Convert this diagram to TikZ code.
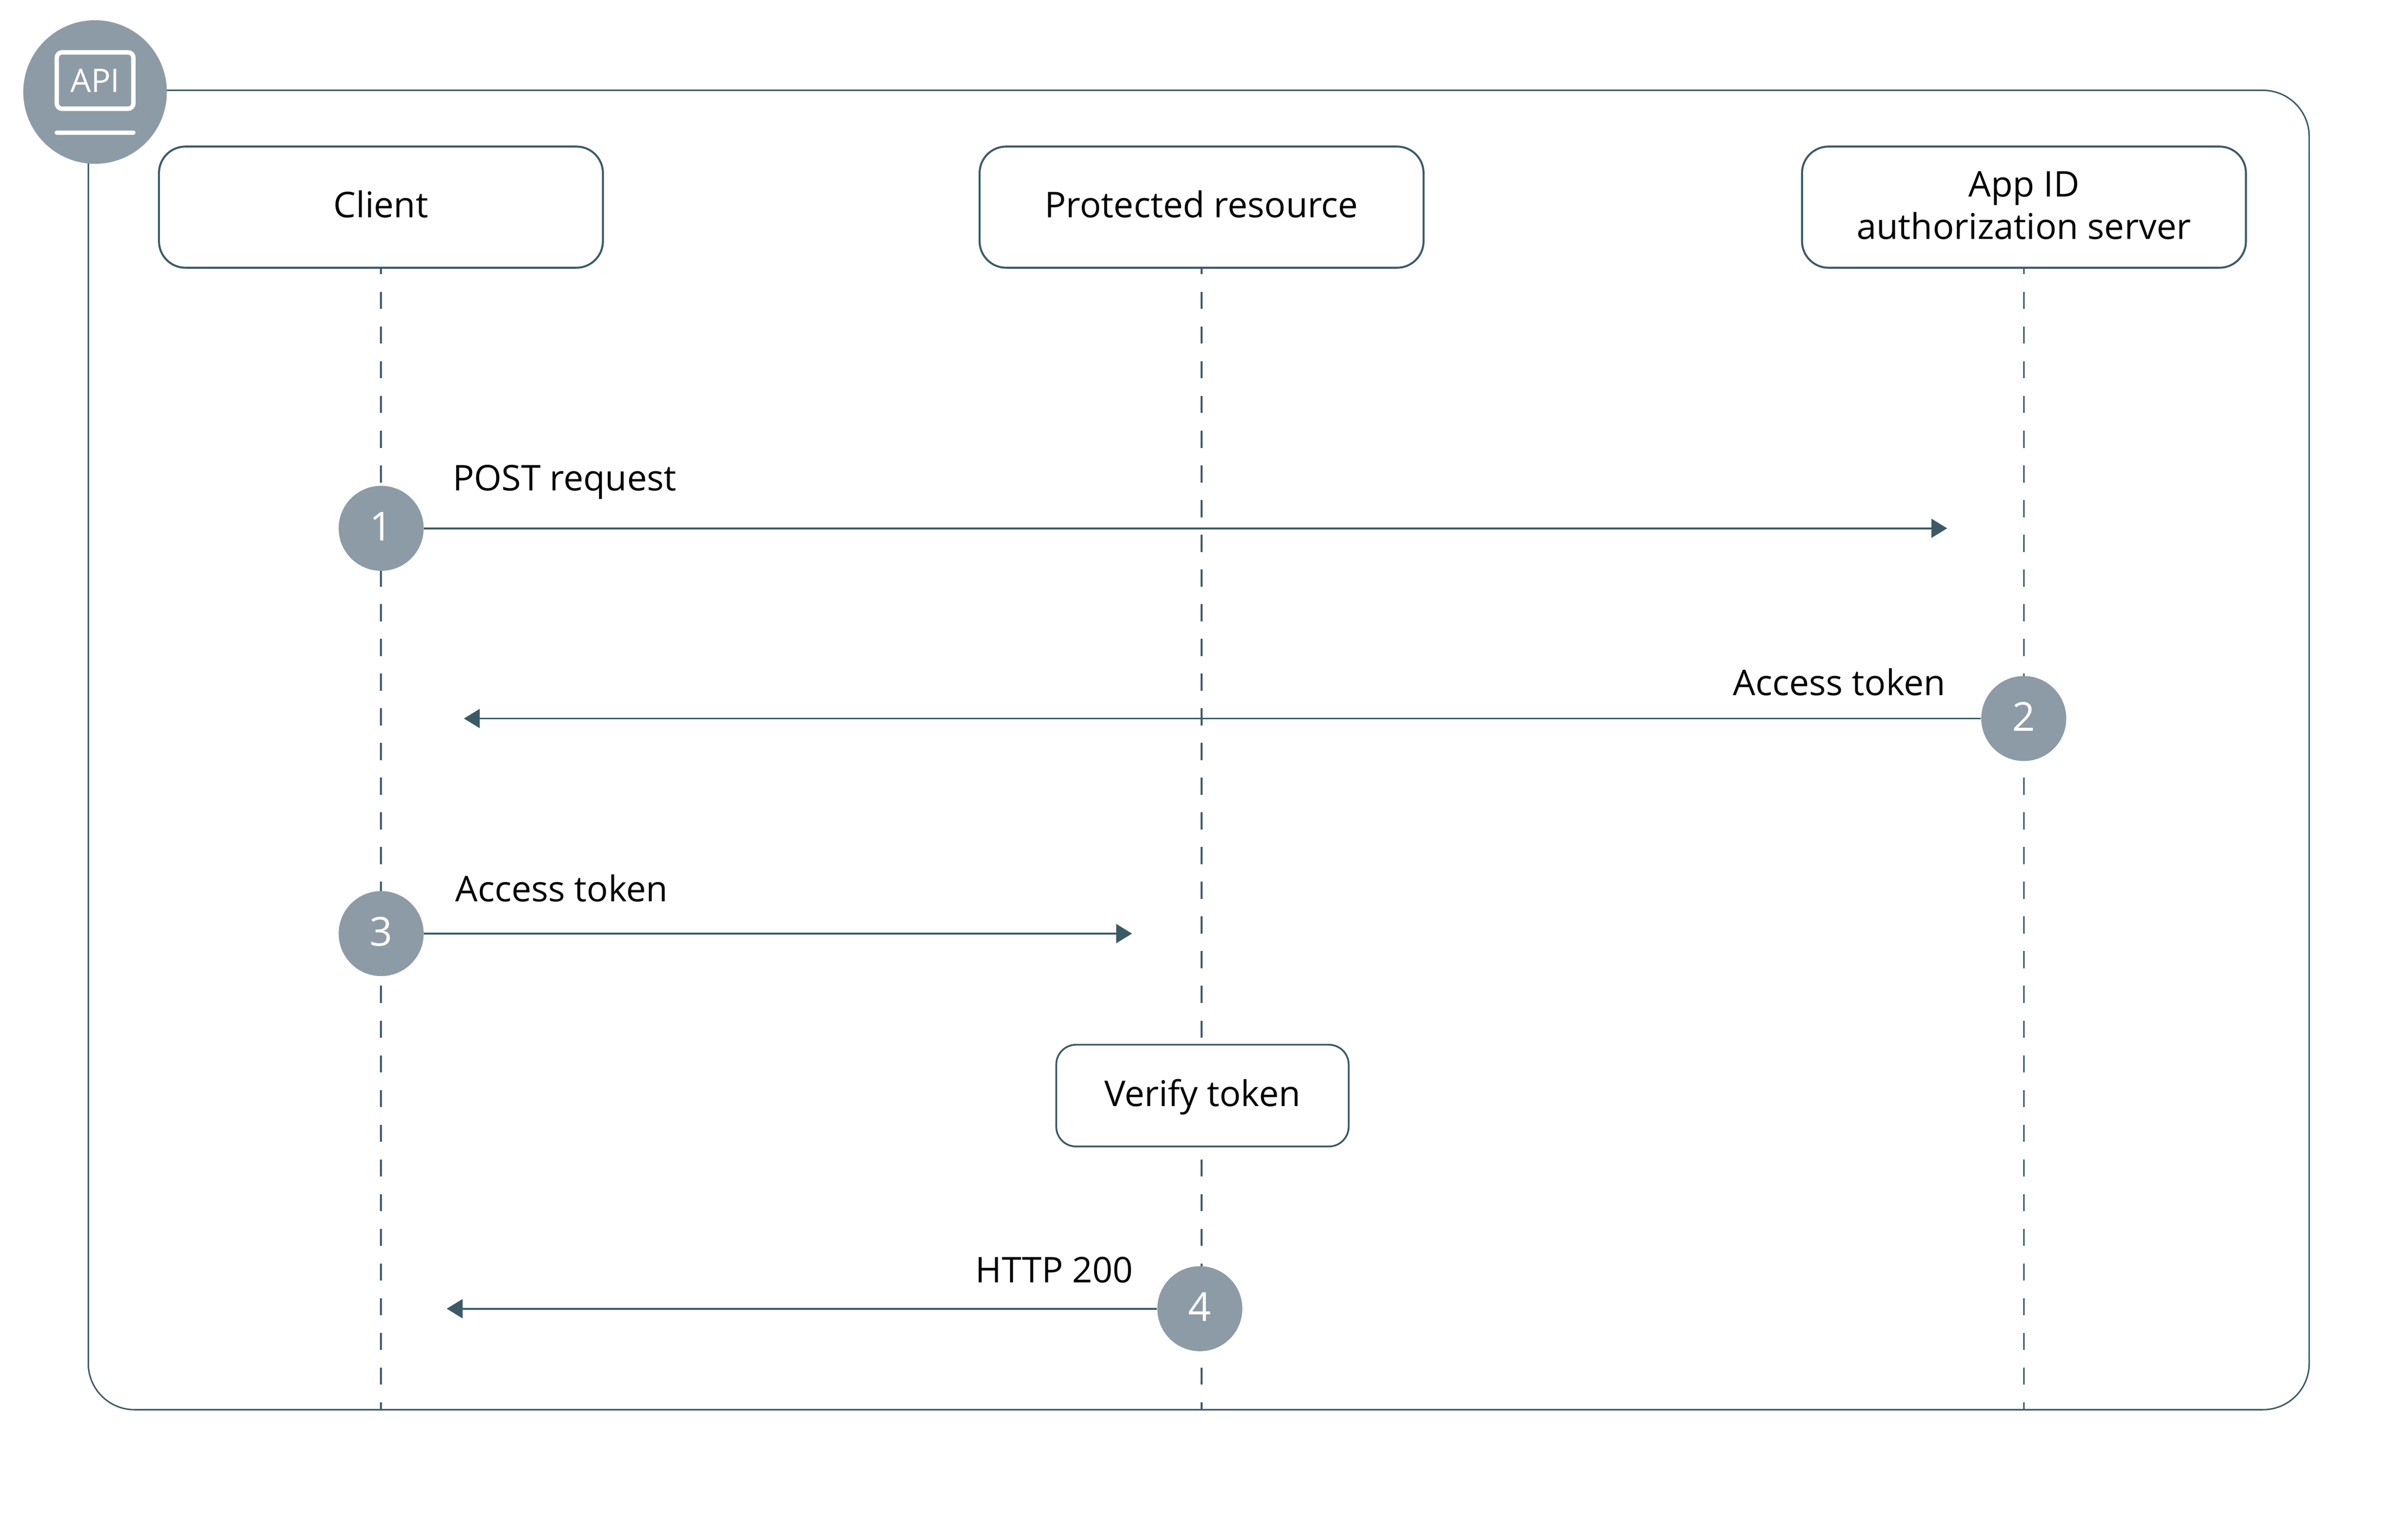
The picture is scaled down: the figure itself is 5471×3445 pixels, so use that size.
\documentclass[tikz,border=0pt]{standalone}
\usepackage{fontspec}
\setmainfont{Open Sans}
\usetikzlibrary{arrows.meta}
\definecolor{linecol}{HTML}{3B5A66}
\definecolor{badgecol}{HTML}{8D9BA6}
\tikzset{
    textsize/.style={font=\fontsize{22.9}{27.3}\selectfont},
    actorbox/.style={draw=linecol,line width=.045cm,rounded corners=.6cm,fill=white,minimum width=10.08cm,minimum height=2.75cm,inner sep=0pt,textsize,text=black},
    oneline/.style={text height=.48cm,text depth=0cm},
    lifeline/.style={draw=linecol,line width=.04cm,dash pattern=on .385cm off .4025cm,dash phase=.2575cm},
    flow/.style={draw=linecol,line width=.043cm,-{Triangle[length=.36cm,width=.43cm]}},
    stepdot/.style={circle,fill=badgecol,minimum size=1.93cm,inner sep=0pt,text=white,text height=.56cm,text depth=0cm,font=\fontsize{25.8}{30}\selectfont},
    msg/.style={inner sep=0pt,textsize,text=black}
}
\begin{document}
\begin{tikzpicture}[x=.01cm,y=-.01cm]
    \useasboundingbox (0,0) rectangle (5471,3445);

    % draw the outer frame
    \node[draw=linecol,line width=.033cm,rounded corners=1.05cm,minimum width=50.43cm,minimum height=29.95cm,inner sep=0pt] (frame) at (2723.5,1703.5) {};

    % the three actors
    \node[actorbox,oneline] (client) at (865.5,470.5) {Client};
    \node[actorbox,oneline] (resource) at (2730,470.5) {Protected resource};
    \node[actorbox,align=center,text depth=.08cm,execute at begin node={\setlength{\baselineskip}{.96cm}}] (server) at (4598.5,470.5) {App ID\\authorization server};

    % draw the lifelines
    \coordinate (clientend) at (client |- frame.south);
    \coordinate (resourceend) at (resource |- frame.south);
    \coordinate (serverend) at (server |- frame.south);
    \draw[lifeline] (client.south) -- (clientend);
    \draw[lifeline] (resource.south) -- (resourceend);
    \draw[lifeline] (server.south) -- (serverend);

    % verify box
    \node[actorbox,oneline,draw=linecol,line width=.04cm,rounded corners=.45cm,minimum width=6.64cm,minimum height=2.31cm] (verify) at (2732,2488.5) {Verify token};

    % numbered steps
    \node[stepdot] (stepone) at (866,1200) {1};
    \node[stepdot] (steptwo) at (4598,1632) {2};
    \node[stepdot] (stepthree) at (866,2120.5) {3};
    \node[stepdot] (stepfour) at (2726,2972.5) {4};

    % free ends of the messages
    \coordinate (postend) at (4424,1200);
    \coordinate (tokenend) at (1054,1632);
    \coordinate (passend) at (2572,2120.5);
    \coordinate (okend) at (1015,2972.5);

    \draw[flow] (stepone) -- (postend);
    \draw[flow] (steptwo) -- (tokenend);
    \draw[flow] (stepthree) -- (passend);
    \draw[flow] (stepfour) -- (okend);

    % text on the messages
    \node[msg,anchor=base west] (postlabel) at (1028,1114) {POST request};
    \node[msg,anchor=base east] (tokenlabel) at (4421,1580) {Access token};
    \node[msg,anchor=base west] (passlabel) at (1034,2048) {Access token};
    \node[msg,anchor=base east] (oklabel) at (2575,2913) {HTTP 200};

    % the api badge
    \node[circle,fill=badgecol,minimum size=3.26cm,inner sep=0pt] (apibadge) at (216,209) {};
    \node[draw=white,line width=.1cm,rounded corners=.12cm,minimum width=1.74cm,minimum height=1.28cm,inner sep=0pt,text=white,font=\fontsize{21}{25}\selectfont] (apiscreen) at (216,183) {API};
    \coordinate (apibarleft) at (129,301);
    \coordinate (apibarright) at (303,301);
    \draw[white,line width=.1cm,line cap=round] (apibarleft) -- (apibarright);
\end{tikzpicture}
\end{document}
